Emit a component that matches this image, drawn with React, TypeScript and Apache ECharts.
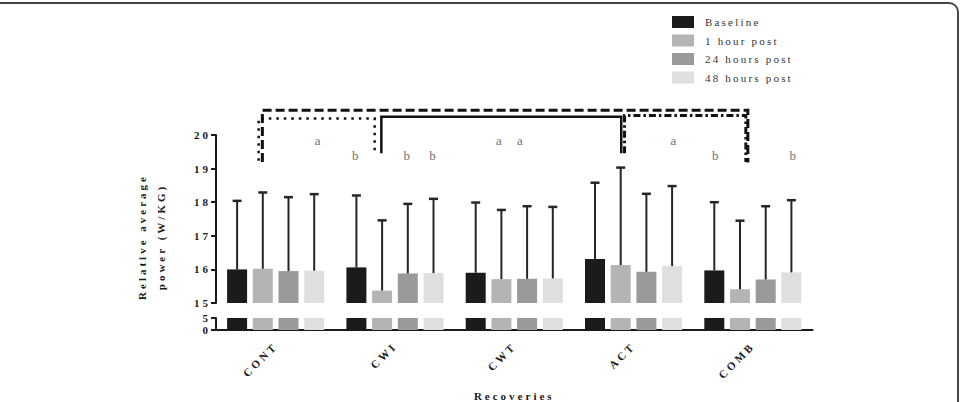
import React, { useEffect, useRef } from "react";
import * as echarts from "echarts";

// ---------- data ----------
const categories = ["CONT", "CWI", "CWT", "ACT", "COMB"];
const seriesNames = ["Baseline", "1 hour post", "24 hours post", "48 hours post"];
const baselineMean = [16.0, 16.06, 15.9, 16.31, 15.97];
const hour1Mean = [16.02, 15.37, 15.71, 16.13, 15.41];
const hour24Mean = [15.95, 15.88, 15.72, 15.93, 15.7];
const hour48Mean = [15.96, 15.89, 15.73, 16.1, 15.91];
const baselineUpper = [18.04, 18.2, 17.99, 18.58, 18.0];
const hour1Upper = [18.29, 17.46, 17.77, 19.03, 17.45];
const hour24Upper = [18.15, 17.95, 17.88, 18.25, 17.88];
const hour48Upper = [18.24, 18.1, 17.86, 18.48, 18.06];
const upperTicks = [15, 16, 17, 18, 19, 20];
const lowerTicks = [0, 5];
// significance letters: category, bar slot, value, letter
const letterCats = [0, 1, 1, 1, 2, 2, 3, 4, 4];
const letterBars = [3, 0, 2, 3, 1, 2, 3, 0, 3];
const letterValues = [19.85, 19.38, 19.38, 19.38, 19.85, 19.85, 19.85, 19.38, 19.38];
const letters = ["a", "b", "b", "b", "a", "a", "a", "b", "b"];
// comparison brackets: from category, to category, top value, left end, right end
const bracketFrom = [0, 0, 1, 3];
const bracketTo = [4, 1, 3, 4];
const bracketTop = [20.74, 20.49, 20.54, 20.58];
const bracketLeftEnd = [19.2, 19.23, 19.46, 19.46];
const bracketRightEnd = [19.18, 19.46, 19.46, 19.2];

// ---------- styles ----------
const colors = ["#1b1b1b", "#b4b4b4", "#9a9a9a", "#dfdfdf"];
const BAR_W = 20;
const BAR_STEP = 25.7;
const barOffset = (i: number) => (i - 1.5) * BAR_STEP;
const letterDx = [4.5, 0, 0, 0, -1.5, -6, 2.5, 2, 2.5];
const bracketDx = [
  [-13.3, -5],
  [-17, -20.3],
  [-13.6, -12.3],
  [-9, -7],
];
const bracketStyles = [
  { lineWidth: 3, lineDash: [9, 4] },
  { lineWidth: 2.5, lineDash: [2.5, 5] },
  { lineWidth: 2.5, lineDash: null },
  { lineWidth: 3, lineDash: [7, 3, 2.5, 3] },
];
const SERIF = '"Liberation Serif", "DejaVu Serif", serif';
const AXIS = "#1a1a1a";

const means = [baselineMean, hour1Mean, hour24Mean, hour48Mean];
const uppers = [baselineUpper, hour1Upper, hour24Upper, hour48Upper];

export default function App() {
  const ref = useRef<HTMLDivElement>(null);
  useEffect(() => {
    document.body.style.margin = "0";
    const chart = echarts.init(ref.current!, null, { renderer: "svg" });

    const barSeries: any[] = [];
    [0, 1].forEach((g) => {
      seriesNames.forEach((name, i) => {
        barSeries.push({
          type: "bar",
          name,
          xAxisIndex: g,
          yAxisIndex: g,
          data: means[i],
          barWidth: BAR_W,
          barGap: ((BAR_STEP - BAR_W) / BAR_W) * 100 + "%",
          itemStyle: { color: colors[i] },
          silent: true,
        });
      });
    });

    const errData: number[][] = [];
    seriesNames.forEach((_, i) => {
      categories.forEach((_, j) => {
        errData.push([j, means[i][j], uppers[i][j], i]);
      });
    });

    const letterData = letters.map((_, k) => [letterCats[k], letterValues[k], letterBars[k], k]);
    const bracketData = bracketFrom.map((_, k) => [
      bracketFrom[k],
      bracketTop[k],
      bracketTo[k],
      bracketLeftEnd[k],
      bracketRightEnd[k],
      k,
    ]);

    const yLabel = {
      margin: 5,
      fontFamily: SERIF,
      fontWeight: "bold",
      fontSize: 11,
      lineHeight: 9,
      color: AXIS,
      showMinLabel: true,
      showMaxLabel: true,
    };

    const option: any = {
      animation: false,
      backgroundColor: "#fff",
      textStyle: { fontFamily: SERIF },
      legend: {
        orient: "vertical",
        left: 672,
        top: 16,
        padding: 0,
        itemWidth: 22,
        itemHeight: 12,
        itemGap: 6.5,
        icon: "rect",
        selectedMode: false,
        data: seriesNames,
        textStyle: { fontFamily: SERIF, fontSize: 11, color: "#333", padding: [0, 0, 0, 6] },
      },
      grid: [
        { left: 216, top: 135, width: 596.5, height: 168, outerBoundsMode: "none", containLabel: false },
        { left: 216, top: 318, width: 596.5, height: 12, outerBoundsMode: "none", containLabel: false },
      ],
      xAxis: [
        { gridIndex: 0, type: "category", data: categories, show: false },
        {
          gridIndex: 1,
          type: "category",
          data: categories,
          axisLine: { lineStyle: { color: AXIS, width: 2 } },
          axisTick: { alignWithLabel: true, length: 4, lineStyle: { color: AXIS, width: 2 } },
          axisLabel: {
            rotate: 45,
            margin: 14,
            fontFamily: SERIF,
            fontWeight: "bold",
            fontSize: 11,
            color: AXIS,
          },
          name: "Recoveries",
          nameLocation: "middle",
          nameGap: 60,
          nameTextStyle: { fontFamily: SERIF, fontWeight: "bold", fontSize: 11, color: AXIS },
        },
      ],
      yAxis: [
        {
          gridIndex: 0,
          type: "value",
          min: upperTicks[0],
          max: upperTicks[upperTicks.length - 1],
          interval: 1,
          splitLine: { show: false },
          axisLine: { show: true, lineStyle: { color: AXIS, width: 2 } },
          axisTick: { show: true, length: 5, lineStyle: { color: AXIS, width: 2 } },
          axisLabel: yLabel,
        },
        {
          gridIndex: 1,
          type: "value",
          min: lowerTicks[0],
          max: lowerTicks[lowerTicks.length - 1],
          interval: 5,
          splitLine: { show: false },
          axisLine: { show: true, lineStyle: { color: AXIS, width: 2 } },
          axisTick: { show: true, length: 5, lineStyle: { color: AXIS, width: 2 } },
          axisLabel: yLabel,
        },
      ],
      graphic: [
        {
          type: "rect",
          shape: { x: -20, y: 3, width: 978, height: 440, r: 9 },
          style: { fill: "none", stroke: "#444", lineWidth: 2 },
          silent: true,
          z: 100,
        },
        {
          type: "text",
          x: 151,
          y: 237,
          rotation: Math.PI / 2,
          style: {
            text: "Relative average\npower (W/KG)",
            fill: AXIS,
            font: 'bold 11px "Liberation Serif", serif',
            align: "center",
            verticalAlign: "middle",
            lineHeight: 19,
          },
        },
      ],
      series: [
        ...barSeries,
        {
          type: "custom",
          xAxisIndex: 0,
          yAxisIndex: 0,
          silent: true,
          clip: false,
          data: errData,
          encode: { x: 0, y: [1, 2] },
          z: 5,
          renderItem: (params: any, api: any) => {
            const cat = api.value(0);
            const base = api.coord([cat, api.value(1)]);
            const top = api.coord([cat, api.value(2)]);
            const x = base[0] + barOffset(api.value(3));
            return {
              type: "group",
              children: [
                {
                  type: "line",
                  shape: { x1: x, y1: base[1], x2: x, y2: top[1] },
                  style: { stroke: "#262626", lineWidth: 2 },
                },
                {
                  type: "line",
                  shape: { x1: x - 4.5, y1: top[1], x2: x + 4.5, y2: top[1] },
                  style: { stroke: "#262626", lineWidth: 2.5 },
                },
              ],
            };
          },
        },
        {
          type: "custom",
          xAxisIndex: 0,
          yAxisIndex: 0,
          silent: true,
          clip: false,
          data: letterData,
          encode: { x: 0, y: 1 },
          renderItem: (params: any, api: any) => {
            const k = api.value(3);
            const p = api.coord([api.value(0), api.value(1)]);
            return {
              type: "text",
              x: p[0] + barOffset(api.value(2)) + letterDx[k],
              y: p[1],
              style: {
                text: letters[k],
                fill: "#707070",
                font: '13px "Liberation Serif", serif',
                align: "center",
                verticalAlign: "middle",
              },
            };
          },
        },
        {
          type: "custom",
          xAxisIndex: 0,
          yAxisIndex: 0,
          silent: true,
          clip: false,
          data: bracketData,
          encode: { x: 0, y: 1 },
          renderItem: (params: any, api: any) => {
            const k = api.value(5);
            const topL = api.coord([api.value(0), api.value(1)]);
            const topR = api.coord([api.value(2), api.value(1)]);
            const endL = api.coord([api.value(0), api.value(3)]);
            const endR = api.coord([api.value(2), api.value(4)]);
            const lx = topL[0] + bracketDx[k][0];
            const rx = topR[0] + bracketDx[k][1];
            const st = bracketStyles[k];
            return {
              type: "polyline",
              shape: {
                points: [
                  [lx, endL[1]],
                  [lx, topL[1]],
                  [rx, topL[1]],
                  [rx, endR[1]],
                ],
              },
              style: {
                stroke: "#111",
                fill: null,
                lineWidth: st.lineWidth,
                lineDash: st.lineDash,
              },
            };
          },
        },
      ],
    };
    chart.setOption(option);
    return () => chart.dispose();
  }, []);

  return (
    <>
      <style>{`#chart-box text { letter-spacing: 2.2px; }
#chart-box text[style*="bold"], #chart-box text[font-weight="bold"] { letter-spacing: 3px; }`}</style>
      <div id="chart-box" ref={ref} style={{ width: 961, height: 402 }} />
    </>
  );
}
